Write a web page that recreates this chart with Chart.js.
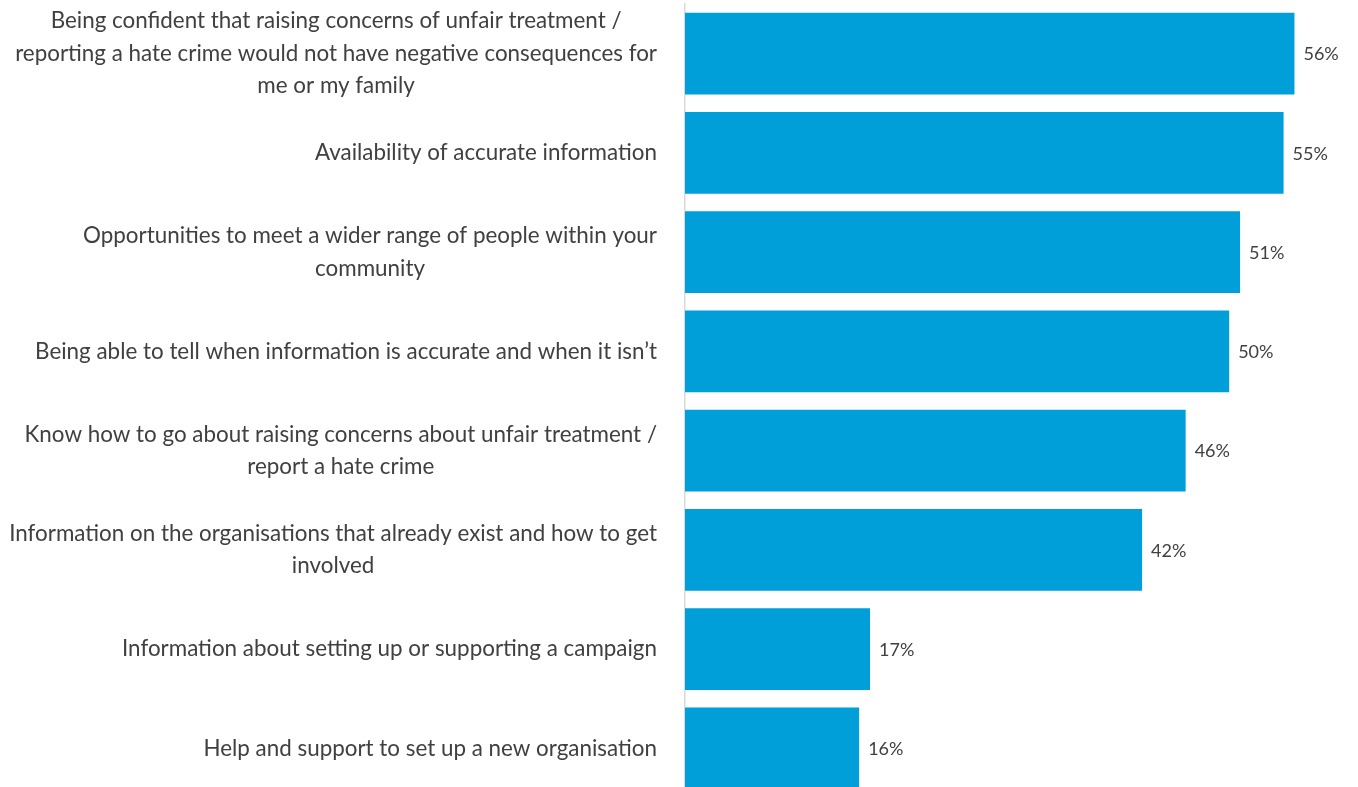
<!DOCTYPE html>
<html>
<head>
<meta charset="utf-8">
<script src="https://cdn.jsdelivr.net/npm/chart.js@4"></script>
<style>
  html, body { margin: 0; padding: 0; background: #fff; overflow: hidden; }
  #wrap { position: relative; width: 1358px; height: 798px; }
</style>
</head>
<body>
<div id="wrap"><canvas id="barChart"></canvas></div>
<script>
const categories = [
  ['Being confident that raising concerns of unfair treatment /', 'reporting a hate crime would not have negative consequences for', 'me or my family'],
  ['Availability of accurate information'],
  ['Opportunities to meet a wider range of people within your', 'community'],
  ['Being able to tell when information is accurate and when it isn\u2019t'],
  ['Know how to go about raising concerns about unfair treatment /', 'report a hate crime'],
  ['Information on the organisations that already exist and how to get', 'involved'],
  ['Information about setting up or supporting a campaign'],
  ['Help and support to set up a new organisation']
];
const percentages = [56, 55, 51, 50, 46, 42, 17, 16];

const textColor = '#404040';
const labelFont = '22.4px Lato';
const valueFont = '18px Lato';

// draws the category labels, each block centred on its own widest line
const categoryLabels = {
  id: 'categoryLabels',
  afterDraw(chart) {
    const ctx = chart.ctx;
    const y = chart.scales.y;
    const rightEdge = y.right - 28;
    const lineGap = 32.5;
    ctx.save();
    ctx.font = labelFont;
    ctx.fillStyle = textColor;
    ctx.textAlign = 'center';
    ctx.textBaseline = 'middle';
    categories.forEach((lines, i) => {
      const widest = Math.max(...lines.map(l => ctx.measureText(l).width));
      const cx = rightEdge - widest / 2;
      const cy = y.getPixelForValue(i);
      const top = cy - (lines.length - 1) * lineGap / 2;
      lines.forEach((l, j) => ctx.fillText(l, cx, top + j * lineGap));
    });
    ctx.restore();
  }
};

// percentage labels at the end of each bar
const valueLabels = {
  id: 'valueLabels',
  afterDatasetsDraw(chart) {
    const ctx = chart.ctx;
    const meta = chart.getDatasetMeta(0);
    ctx.save();
    ctx.font = valueFont;
    ctx.fillStyle = textColor;
    ctx.textAlign = 'left';
    ctx.textBaseline = 'middle';
    meta.data.forEach((bar, i) => {
      ctx.fillText(percentages[i] + '%', bar.x + 9, bar.y + 1);
    });
    ctx.restore();
  }
};

new Chart(document.getElementById('barChart').getContext('2d'), {
  type: 'bar',
  data: {
    labels: categories.map(c => c.join(' ')),
    datasets: [{
      data: percentages,
      backgroundColor: '#009FDA',
      borderWidth: 0,
      barPercentage: 0.826,
      categoryPercentage: 1
    }]
  },
  options: {
    indexAxis: 'y',
    responsive: true,
    maintainAspectRatio: false,
    animation: false,
    layout: { padding: { top: 4, right: 20, bottom: 0, left: 0 } },
    plugins: { legend: { display: false }, tooltip: { enabled: false } },
    scales: {
      x: { display: false, min: 0, max: 60 },
      y: {
        afterFit: scale => { scale.width = 685; },
        grid: { display: false, drawTicks: false },
        border: { display: true, color: '#D9D9D9', width: 1.5 },
        ticks: { display: false }
      }
    }
  },
  plugins: [categoryLabels, valueLabels]
});
</script>
</body>
</html>
